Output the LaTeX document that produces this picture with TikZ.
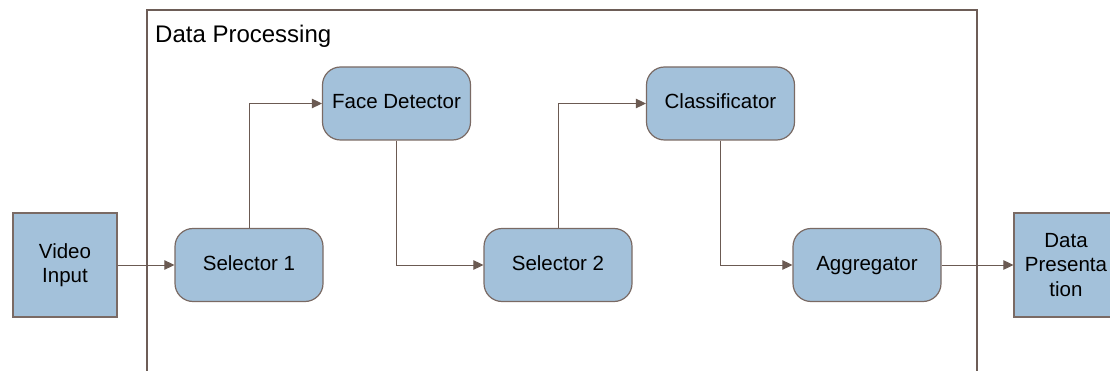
\documentclass[tikz,border=0pt]{standalone}
\usepackage{fontspec}
\setmainfont{Liberation Sans}
\usetikzlibrary{arrows.meta}
\definecolor{boxfill}{HTML}{A3C1DA}
\definecolor{boxline}{HTML}{7A6A64}
\definecolor{linkcol}{HTML}{6B5A52}
\definecolor{framecol}{HTML}{6D5D57}
\tikzset{
  procbox/.style={draw=boxline, line width=1.2pt, fill=boxfill, rounded corners=18pt,
    minimum width=148pt, minimum height=73pt, inner sep=0pt,
    text height=15pt, text depth=4.5pt,
    font=\fontsize{20.5}{24.5}\selectfont},
  iobox/.style={draw=boxline, line width=1.2pt, fill=boxfill,
    minimum width=104pt, minimum height=104pt, inner sep=0pt, align=center,
    font=\fontsize{20.5}{24.5}\selectfont},
  link/.style={draw=linkcol, line width=1pt, -{Triangle[length=10pt,width=9.5pt]}}
}
\begin{document}
\begin{tikzpicture}[x=1pt,y=-1pt]
  \useasboundingbox (0,0) rectangle (1110,371);
  % container
  \draw[framecol, line width=2pt] (147,400) -- (147,10) -- (977,10) -- (977,400);
  \node[anchor=base west, inner sep=0pt, font=\fontsize{24}{28}\selectfont] (title) at (155,43) {Data Processing};

  % blocks
  \node[iobox] (video) at (65,265) {Video\\Input};
  \node[procbox] (sel1) at (249,265) {Selector 1};
  \node[procbox] (face) at (396.5,103.5) {Face Detector};
  \node[procbox] (sel2) at (558,265) {Selector 2};
  \node[procbox] (cls) at (720.5,103.5) {Classificator};
  \node[procbox] (agg) at (867,265) {Aggregator};
  \node[iobox] (pres) at (1066,265) {Data\\Presenta\\tion};

  % connectors
  \draw[link] (video.east) -- (sel1.west);
  \draw[link] (sel1.north) |- (face.west);
  \draw[link] (face.south) |- (sel2.west);
  \draw[link] (sel2.north) |- (cls.west);
  \draw[link] (cls.south) |- (agg.west);
  \draw[link] (agg.east) -- (pres.west);
\end{tikzpicture}
\end{document}
